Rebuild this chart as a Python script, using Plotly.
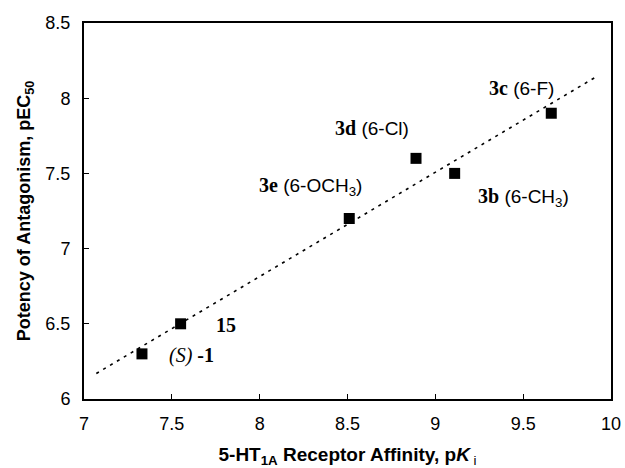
import numpy as np
import plotly.graph_objects as go

# Data
compounds = ["(S)-1", "15", "3e", "3d", "3b", "3c"]
affinity_pKi = [7.33, 7.55, 8.51, 8.89, 9.11, 9.66]
potency_pEC50 = [6.3, 6.5, 7.2, 7.6, 7.5, 7.9]
label_texts = [
    "<i>(S)</i> <b>-1</b>",
    "<b>15</b>",
    "<span style='font-family:Liberation Serif;font-size:20px'><b>3e</b></span> (6-OCH<sub>3</sub>)",
    "<span style='font-family:Liberation Serif;font-size:20px'><b>3d</b></span> (6-Cl)",
    "<span style='font-family:Liberation Serif;font-size:20px'><b>3b</b></span> (6-CH<sub>3</sub>)",
    "<span style='font-family:Liberation Serif;font-size:20px'><b>3c</b></span> (6-F)",
]
label_x = [7.61, 7.81, 8.29, 8.64, 9.50, 9.49]
label_y = [6.29, 6.49, 7.41, 7.80, 7.34, 8.07]
label_serif = [True, True, False, False, False, False]
trend_range = [7.07, 9.91]

slope, intercept = np.polyfit(affinity_pKi, potency_pEC50, 1)
tx = np.array(trend_range)
ty = slope * tx + intercept

fig = go.Figure()
fig.add_trace(go.Scatter(x=tx, y=ty, mode="lines",
                         line=dict(color="black", width=1.6, dash="3px,5px"),
                         showlegend=False))
fig.add_trace(go.Scatter(x=affinity_pKi, y=potency_pEC50, mode="markers",
                         marker=dict(symbol="square", size=11, color="black"),
                         showlegend=False))

for t, x, y, serif in zip(label_texts, label_x, label_y, label_serif):
    fig.add_annotation(x=x, y=y, text=t, showarrow=False,
                       font=dict(family="Liberation Serif" if serif else "Liberation Sans",
                                 size=20 if serif else 19, color="black"))

fig.update_layout(
    width=625, height=468,
    margin=dict(l=84, r=14, t=23, b=69),
    plot_bgcolor="white", paper_bgcolor="white",
    font=dict(family="Liberation Sans", size=18, color="black"),
)
fig.update_xaxes(range=[7, 10], tickvals=[7, 7.5, 8, 8.5, 9, 9.5, 10],
                 ticktext=["7", "7.5", "8", "8.5", "9", "9.5", "10"],
                 ticks="inside", ticklen=5, tickcolor="black", tickfont=dict(size=18),
                 ticklabelstandoff=7, automargin=False,
                 showline=True, linecolor="black", linewidth=2, mirror=True,
                 showgrid=False, zeroline=False,
                 title=dict(text="<b>5-HT<sub>1A</sub> Receptor Affinity, p<i>K</i></b><sub> i</sub>",
                            font=dict(size=19), standoff=23))
fig.update_yaxes(range=[6, 8.5], tickvals=[6, 6.5, 7, 7.5, 8, 8.5],
                 ticktext=["6", "6.5", "7", "7.5", "8", "8.5"],
                 ticks="inside", ticklen=5, tickcolor="black", tickfont=dict(size=18),
                 ticklabelstandoff=8, automargin=False,
                 showline=True, linecolor="black", linewidth=2, mirror=True,
                 showgrid=False, zeroline=False,
                 title=dict(text="<b>Potency of Antagonism, pEC<sub>50</sub></b>",
                            font=dict(size=18), standoff=10))

fig.write_html("out.html")
